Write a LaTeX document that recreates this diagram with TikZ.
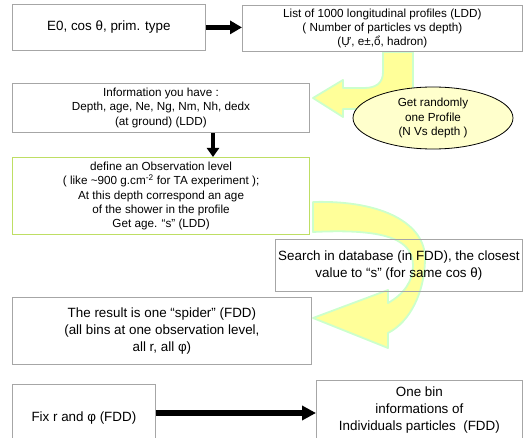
\documentclass[tikz,border=0pt]{standalone}
\usepackage{fontspec}
\setmainfont{Liberation Sans}
\usetikzlibrary{arrows.meta,shapes.geometric}
\definecolor{boxgray}{RGB}{166,166,166}
\definecolor{boxgreen}{RGB}{190,222,100}
\definecolor{arrfill}{RGB}{255,255,153}
\definecolor{arrline}{RGB}{204,255,204}
\definecolor{ellfill}{RGB}{255,255,204}
\begin{document}
\begin{tikzpicture}[x=1pt,y=-1pt,
  box/.style={draw=boxgray,line width=0.8pt,inner sep=0pt,align=center,anchor=north west},
  greenbox/.style={box,draw=boxgreen,line width=1.2pt},
  sm/.style={font=\fontsize{11.7}{14.3}\selectfont},
  lg/.style={font=\fontsize{13.4}{16.7}\selectfont},
  yarrow/.style={fill=arrfill,draw=arrline,line width=1.8pt,line join=round},
  bigarrow/.style={line width=5pt,-{Triangle[length=12pt,width=13pt]}},
  downarrow/.style={line width=3.5pt,-{Triangle[length=9pt,width=12pt]}},
  bottomarrow/.style={line width=6pt,-{Triangle[length=14pt,width=14pt]}}]
\useasboundingbox (0,0) rectangle (525,438);
\clip (0,0) rectangle (525,438);

% yellow arrows (behind)
\draw[yarrow] (383,52) -- (383,72) .. controls (383,83) and (376,88) .. (364,88)
  -- (343,88) -- (343,80) -- (313,98) -- (343,117) -- (343,109) -- (392,109)
  .. controls (405,109) and (413,101) .. (413,88) -- (413,52) -- cycle;
\draw[yarrow] (313,202) .. controls (385,200) and (425,225) .. (425,258)
  .. controls (425,292) and (410,322) .. (388,333) -- (388,348) -- (313,318)
  -- (388,290) -- (388,303) .. controls (404,294) and (413,281) .. (413,266)
  .. controls (413,242) and (392,228) .. (313,232) -- cycle;

% boxes
\node[box,lg,minimum width=193pt,minimum height=46pt] (b1) at (12,4)
  {E0, cos θ, prim. type};
\node[box,sm,minimum width=280pt,minimum height=46pt] (b2) at (242,5)
  {List of 1000 longitudinal profiles (LDD)\\( Number of particles vs depth)\\(Ự, e±,ổ, hadron)};
\node[box,sm,minimum width=297pt,minimum height=49pt] (b3) at (12,83)
  {Information you have :\\Depth, age, Ne, Ng, Nm, Nh, dedx\\(at ground) (LDD)};
\node[greenbox,sm,minimum width=297pt,minimum height=77pt] (b4) at (12,157)
  {define an Observation level\\( like \textasciitilde900 g.cm\textsuperscript{-2} for TA experiment );\\At this depth correspond an age\\ of the shower in the profile\\Get age. “s” (LDD)};
\node[box,lg,minimum width=247pt,minimum height=52pt] (b5) at (275,239)
  {Search in database (in FDD), the closest\\value to “s” (for same cos θ)};
\node[box,lg,minimum width=299pt,minimum height=67pt] (b6) at (12,297)
  {The result is one “spider” (FDD)\\(all bins at one observation level,\\all r, all φ)};
\node[box,lg,minimum width=143pt,minimum height=68pt] (b7) at (12,384)
  {Fix r and φ (FDD)};
\node[box,lg,minimum width=206pt,minimum height=60pt,font=\fontsize{13.4}{17}\selectfont] (b8) at (316,380)
  {One bin\\informations of\\Individuals particles~~(FDD)};

% ellipse
\node[ellipse,draw=black,fill=ellfill,line width=0.8pt,minimum width=160pt,minimum height=62pt,
  inner sep=0pt,align=center,sm] (el) at (433,118)
  {Get randomly\\one Profile\\(N Vs depth )};

% connectors
\coordinate (dx) at (213,0);
\coordinate (ay) at (0,413);
\draw[bigarrow] (b1.east) -- (b1.east -| b2.west);
\draw[downarrow] (b3.south -| dx) -- (b4.north -| dx);
\draw[bottomarrow] (b7.east |- ay) -- (b8.west |- ay);
\end{tikzpicture}
\end{document}
